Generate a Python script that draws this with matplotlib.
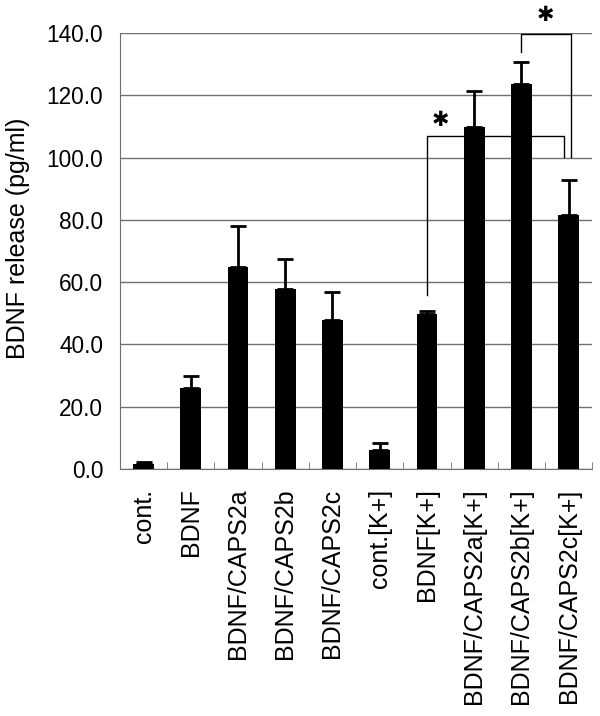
import matplotlib
matplotlib.use('Agg')
import matplotlib.pyplot as plt
import numpy as np

plt.rcParams['font.family'] = ['Liberation Sans', 'DejaVu Sans']

labels = ['cont.', 'BDNF', 'BDNF/CAPS2a', 'BDNF/CAPS2b', 'BDNF/CAPS2c',
          'cont.[K+]', 'BDNF[K+]', 'BDNF/CAPS2a[K+]', 'BDNF/CAPS2b[K+]', 'BDNF/CAPS2c[K+]']
means = [1.7, 26.0, 65.0, 57.7, 47.8, 6.1, 49.8, 109.7, 123.5, 81.6]
errors = [0.7, 3.7, 13.0, 9.6, 9.1, 2.2, 0.9, 11.8, 7.2, 11.1]
yticks = [0, 20, 40, 60, 80, 100, 120, 140]

fig = plt.figure(figsize=(6, 7.16), dpi=100)
ax = fig.add_axes([0.2, 0.345, 0.787, 0.609])

x = np.arange(len(labels))
ax.bar(x, means, width=0.44, color='black', zorder=3)
ax.errorbar(x, means, yerr=[np.zeros(len(errors)), errors], fmt='none',
            ecolor='black', elinewidth=2, capsize=6, capthick=2, zorder=3)

ax.set_xlim(-0.5, len(labels) - 0.5)
ax.set_ylim(0, 140)
ax.set_yticks(yticks)
ax.set_yticklabels(['%.1f' % v for v in yticks], fontsize=16.3)
ax.yaxis.grid(True, color='#707070', linewidth=1)
ax.set_axisbelow(True)
ax.tick_params(axis='y', length=0, pad=12)

ax.set_xticks(x)
ax.set_xticklabels(labels, rotation=90, fontsize=18, va='top')
ax.tick_params(axis='x', which='major', length=0, pad=14)
ax.set_xticks(np.arange(-0.5, len(labels)), minor=True)
ax.tick_params(axis='x', which='minor', direction='in', length=5, color='#707070')

for s in ['top', 'right']:
    ax.spines[s].set_visible(False)
for s in ['left', 'bottom']:
    ax.spines[s].set_color('#707070')

ax.set_ylabel('BDNF release (pg/ml)', fontsize=18)
ax.yaxis.set_label_coords(-0.19, 0.53)

# significance brackets
ax.plot([6, 6, 8.9, 8.9], [55.9, 107.0, 107.0, 100.3], color='black', lw=1, zorder=4)
ax.text(6.29, 112.0, '\u2731', fontsize=15, ha='center', va='center', family='DejaVu Sans')
ax.plot([8, 8, 9.05, 9.05], [134.0, 139.6, 139.6, 100.3], color='black', lw=1, zorder=4,
        clip_on=False)
ax.text(8.51, 145.7, '\u2731', fontsize=15, ha='center', va='center', family='DejaVu Sans',
        clip_on=False)

fig.savefig('out.png', dpi=100)
